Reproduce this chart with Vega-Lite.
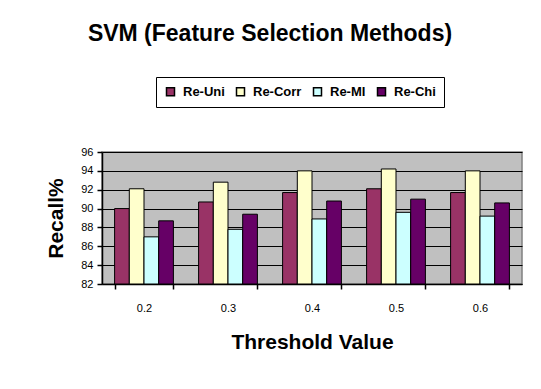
{
  "$schema": "https://vega.github.io/schema/vega-lite/v6.json",
  "autosize": {"type": "none"},
  "padding": {"left": 102, "top": 152, "right": 19, "bottom": 105},
  "width": 420,
  "height": 132,
  "background": "white",
  "title": {
    "text": "SVM (Feature Selection Methods)",
    "frame": "group",
    "anchor": "middle",
    "dx": -42,
    "offset": 13,
    "baseline": "alphabetic",
    "font": "Liberation Sans",
    "fontSize": 23,
    "fontWeight": "bold",
    "color": "black"
  },
  "data": {
    "values": [
      {"threshold": "0.2", "method": "Re-Uni", "recall": 90.0},
      {"threshold": "0.2", "method": "Re-Corr", "recall": 92.1},
      {"threshold": "0.2", "method": "Re-MI", "recall": 87.0},
      {"threshold": "0.2", "method": "Re-Chi", "recall": 88.7},
      {"threshold": "0.3", "method": "Re-Uni", "recall": 90.7},
      {"threshold": "0.3", "method": "Re-Corr", "recall": 92.8},
      {"threshold": "0.3", "method": "Re-MI", "recall": 87.8},
      {"threshold": "0.3", "method": "Re-Chi", "recall": 89.4},
      {"threshold": "0.4", "method": "Re-Uni", "recall": 91.7},
      {"threshold": "0.4", "method": "Re-Corr", "recall": 94.0},
      {"threshold": "0.4", "method": "Re-MI", "recall": 88.9},
      {"threshold": "0.4", "method": "Re-Chi", "recall": 90.8},
      {"threshold": "0.5", "method": "Re-Uni", "recall": 92.1},
      {"threshold": "0.5", "method": "Re-Corr", "recall": 94.2},
      {"threshold": "0.5", "method": "Re-MI", "recall": 89.6},
      {"threshold": "0.5", "method": "Re-Chi", "recall": 91.0},
      {"threshold": "0.6", "method": "Re-Uni", "recall": 91.7},
      {"threshold": "0.6", "method": "Re-Corr", "recall": 94.0},
      {"threshold": "0.6", "method": "Re-MI", "recall": 89.2},
      {"threshold": "0.6", "method": "Re-Chi", "recall": 90.6}
    ]
  },
  "mark": {"type": "bar", "stroke": "black", "strokeWidth": 1},
  "encoding": {
    "x": {
      "field": "threshold",
      "type": "nominal",
      "scale": {"paddingInner": 0.3, "paddingOuter": 0.15},
      "axis": {
        "title": "Threshold Value",
        "labelAngle": 0,
        "tickBand": "extent",
        "labelPadding": 13,
        "titlePadding": 18
      }
    },
    "xOffset": {
      "field": "method",
      "type": "nominal",
      "sort": ["Re-Uni", "Re-Corr", "Re-MI", "Re-Chi"],
      "scale": {"paddingInner": 0, "paddingOuter": 0}
    },
    "y": {
      "field": "recall",
      "type": "quantitative",
      "scale": {"domain": [82, 96], "nice": false, "zero": false},
      "axis": {
        "title": "Recall%",
        "values": [82, 84, 86, 88, 90, 92, 94, 96],
        "grid": true,
        "labelPadding": 4,
        "titlePadding": 14
      }
    },
    "y2": {"datum": 82},
    "color": {
      "field": "method",
      "type": "nominal",
      "sort": ["Re-Uni", "Re-Corr", "Re-MI", "Re-Chi"],
      "scale": {
        "domain": ["Re-Uni", "Re-Corr", "Re-MI", "Re-Chi"],
        "range": ["#993366", "#FFFFCC", "#CCFFFF", "#660066"]
      },
      "legend": {
        "title": null,
        "orient": "none",
        "direction": "horizontal",
        "legendX": 54,
        "legendY": -75,
        "padding": 8,
        "strokeColor": "black",
        "symbolType": "square",
        "symbolSize": 64,
        "symbolStrokeColor": "black",
        "symbolStrokeWidth": 1.5,
        "symbolOpacity": 1,
        "labelFont": "Liberation Sans",
        "labelFontSize": 13,
        "labelFontWeight": "bold",
        "labelColor": "black",
        "labelOffset": 6,
        "columnPadding": 8
      }
    }
  },
  "config": {
    "view": {"fill": "#C0C0C0", "stroke": "#808080", "strokeWidth": 1.5},
    "axis": {
      "domainColor": "black",
      "domainWidth": 1.5,
      "tickColor": "black",
      "tickWidth": 1.5,
      "tickSize": 5,
      "gridColor": "black",
      "gridWidth": 1,
      "gridOpacity": 1,
      "labelFont": "Liberation Sans",
      "labelFontSize": 11,
      "labelColor": "black",
      "titleFont": "Liberation Sans",
      "titleFontSize": 21,
      "titleFontWeight": "bold",
      "titleColor": "black"
    }
  }
}
